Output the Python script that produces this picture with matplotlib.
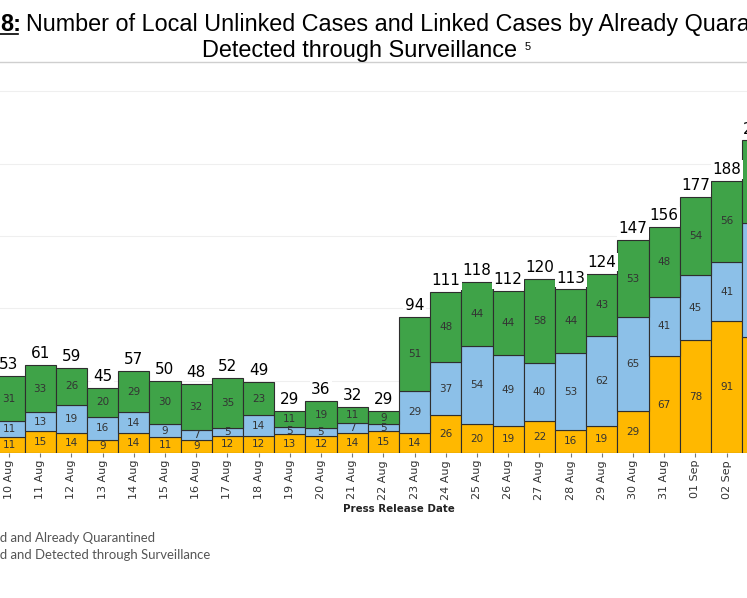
import matplotlib
matplotlib.use("Agg")
import matplotlib.pyplot as plt
from matplotlib.lines import Line2D
from matplotlib.font_manager import FontProperties
import numpy as np

dates = ["10 Aug", "11 Aug", "12 Aug", "13 Aug", "14 Aug", "15 Aug", "16 Aug", "17 Aug",
         "18 Aug", "19 Aug", "20 Aug", "21 Aug", "22 Aug", "23 Aug", "24 Aug", "25 Aug",
         "26 Aug", "27 Aug", "28 Aug", "29 Aug", "30 Aug", "31 Aug", "01 Sep", "02 Sep", "03 Sep"]
quarantined = [11, 15, 14, 9, 14, 11, 9, 12, 12, 13, 12, 14, 15, 14, 26, 20, 19, 22, 16, 19, 29, 67, 78, 91, 80]
surveillance = [11, 13, 19, 16, 14, 9, 7, 5, 14, 5, 5, 7, 5, 29, 37, 54, 49, 40, 53, 62, 65, 41, 45, 41, 79]
unlinked = [31, 33, 26, 20, 29, 30, 32, 35, 23, 11, 19, 11, 9, 51, 48, 44, 44, 58, 44, 43, 53, 48, 54, 56, 57]
legend_labels = ["Linked and Already Quarantined", "Linked and Detected through Surveillance"]

YELLOW = "#FFB800"
BLUE = "#8CC0E8"
GREEN = "#3FA348"
EDGE = "#2e2e2e"

W, H = 747, 598
fig = plt.figure(figsize=(W / 100, H / 100), dpi=100)
r = fig.canvas.get_renderer()

def fx(px):
    return px / W

def fy(py):
    return 1 - py / H

def fit_size(text, family, target_px, weight="normal", base=10.0):
    fp = FontProperties(family=family, weight=weight, size=base)
    w, _, _ = r.get_text_width_height_descent(text, fp, ismath=False)
    return base * target_px / w

base_px = 453
top_px = 62
ppu = 1.447
ax = fig.add_axes([0, fy(base_px), 1, (base_px - top_px) / H])
x = np.arange(len(dates))

q = np.array(quarantined)
s = np.array(surveillance)
u = np.array(unlinked)
tot = q + s + u

ax.bar(x, q, width=1, color=YELLOW, edgecolor=EDGE, linewidth=0.8, zorder=2)
ax.bar(x, s, width=1, bottom=q, color=BLUE, edgecolor=EDGE, linewidth=0.8, zorder=2)
ax.bar(x, u, width=1, bottom=q + s, color=GREEN, edgecolor=EDGE, linewidth=0.8, zorder=2)

for i in range(len(dates)):
    for val, bot in ((q[i], 0), (s[i], q[i]), (u[i], q[i] + s[i])):
        ax.text(x[i], bot + val / 2, str(val), ha="center", va="center",
                fontsize=7.5, color="#333333", zorder=4)
    ax.annotate(str(tot[i]), (x[i], tot[i]), xytext=(0, 5), textcoords="offset points",
                ha="center", va="baseline", fontsize=11, color="black", zorder=5,
                annotation_clip=False,
                bbox=dict(boxstyle="square,pad=0.1", fc="white", ec="none"))

for sp in ax.spines.values():
    sp.set_visible(False)
ax.set_yticks([50, 100, 150, 200, 250])
ax.yaxis.grid(True, color="#efefef", linewidth=0.8, zorder=0)
ax.set_axisbelow(True)
ax.tick_params(axis="y", left=False, labelleft=False)
ax.set_xticks(x)
ax.set_xticklabels(dates, rotation=90, fontsize=8, color="#333333")
ax.tick_params(axis="x", length=3, color="#777777", pad=2)
ax.set_xlim((0 - 9) / 31.2, (W - 9) / 31.2)
ax.set_ylim(0, (base_px - top_px) / ppu)

xl_size = fit_size("Press Release Date", "DejaVu Sans", 112, weight="bold")
fig.text(fx(399), fy(509), "Press Release Date", ha="center", va="center",
         fontsize=xl_size, fontweight="bold", color="#222222")

# separator line
fig.add_artist(Line2D([0, 1], [fy(62), fy(62)], color="#cfcfcf", linewidth=1.0))

# title
tf = "Liberation Sans"
l1 = "Number of Local Unlinked Cases and Linked Cases by Already Quarantined and"
s1 = fit_size("Number of Local Unlinked Cases and Linked Cases by Already Quara", tf, 724)
s2 = fit_size("Detected through Surveillance", tf, 317)
fig.text(fx(0), fy(31), "Figure ", ha="right", va="baseline", fontsize=s1, family=tf)
fig.text(fx(0), fy(31), "8:", ha="left", va="baseline", fontsize=s1, fontweight="bold", family=tf)
fig.add_artist(Line2D([0, fx(18)], [fy(33.5), fy(33.5)], color="black", linewidth=1.2))
fig.text(fx(26), fy(31), l1, ha="left", va="baseline", fontsize=s1, family=tf)
fig.text(fx(517), fy(57), "Detected through Surveillance", ha="right", va="baseline",
         fontsize=s2, family=tf)
fig.text(fx(525), fy(50), "5", ha="left", va="baseline", fontsize=8, family=tf)

# legend (cut off at the left edge)
lf = "Lato"
leg_size = fit_size("d Already Quarantined", lf, 131)
fp = FontProperties(family=lf, size=leg_size)
for txt, py in zip(legend_labels, [538, 555]):
    prefix = txt[: txt.index("d ")]
    w, h, d = r.get_text_width_height_descent(prefix, fp, ismath=False)
    fig.text(fx(-w - 0.5), fy(py), txt, ha="left", va="center", fontproperties=fp, color="#555555")

fig.savefig("out.png", dpi=100)
